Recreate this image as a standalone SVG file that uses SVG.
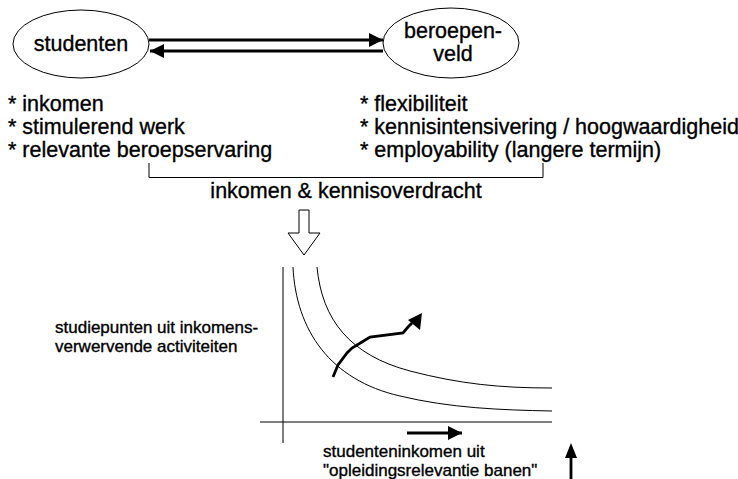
<svg xmlns="http://www.w3.org/2000/svg" width="738" height="479" viewBox="0 0 738 479">
  <defs>
    <marker id="head" viewBox="0 0 10 10" refX="10" refY="5" markerWidth="5" markerHeight="5" markerUnits="strokeWidth" orient="auto">
      <path d="M0,0 L10,5 L0,10 Z" fill="#000"/>
    </marker>
  </defs>
  <style>
    text { font-family: "Liberation Sans", Arial, sans-serif; fill: #000; stroke: #000; stroke-width: 0.35; }
    .big { font-size: 21.5px; }
    .small { font-size: 17px; }
    .node { fill: #fff; stroke: #000; stroke-width: 1; }
    .thick { fill: none; stroke: #000; stroke-width: 2.8; }
    .thin { fill: none; stroke: #000; stroke-width: 1; }
  </style>
  <rect width="738" height="479" fill="#fff"/>

  <!-- nodes -->
  <g id="studenten">
    <ellipse class="node" cx="81" cy="44" rx="68" ry="34"/>
    <text class="big" x="81" y="51" text-anchor="middle">studenten</text>
  </g>
  <g id="beroepenveld">
    <ellipse class="node" cx="451" cy="43" rx="68" ry="35"/>
    <text class="big" x="453" y="38" text-anchor="middle">beroepen-</text>
    <text class="big" x="453" y="61" text-anchor="middle">veld</text>
  </g>

  <!-- connectors between the two parties -->
  <g id="connectors">
    <line class="thick" x1="149" y1="40" x2="383" y2="40" marker-end="url(#head)"/>
    <line class="thick" x1="383" y1="51" x2="150" y2="51" marker-end="url(#head)"/>
  </g>

  <!-- interests of each side -->
  <g id="student-interests">
    <text class="big" x="8" y="111">* inkomen</text>
    <text class="big" x="8" y="134">* stimulerend werk</text>
    <text class="big" x="8" y="157">* relevante beroepservaring</text>
  </g>
  <g id="field-interests">
    <text class="big" x="360" y="111">* flexibiliteit</text>
    <text class="big" x="360" y="134">* kennisintensivering / hoogwaardigheid</text>
    <text class="big" x="360" y="157">* employability (langere termijn)</text>
  </g>

  <!-- bracket joining both lists -->
  <g id="bracket">
    <path class="thin" d="M149,163 V177.5 H543 V163"/>
    <text class="big" x="346" y="198" text-anchor="middle">inkomen &amp; kennisoverdracht</text>
  </g>

  <!-- hollow block arrow down to the chart -->
  <g id="block-arrow">
    <path d="M299,210 H309 V233 H320 L304,255 L288,233 H299 Z" fill="#fff" stroke="#000" stroke-width="1"/>
  </g>

  <!-- chart -->
  <g id="chart">
    <line class="thin" x1="283" y1="267" x2="283" y2="443"/>
    <line class="thin" x1="260" y1="422" x2="552" y2="422"/>
    <path class="thin" d="M293,267 C296,330 330,380 400,396 C450,408 500,410 552,411"/>
    <path class="thin" d="M317,267 C322,320 350,355 410,371 C460,384 500,388 552,388"/>
    <polyline class="thick" stroke-width="2.5" points="333,377 338,365 347,353 352,348 362,342 370,337 403,333 408,327 412,323"/>
    <path d="M422,313 L420,330 L408,320 Z" fill="#000"/>
    <line class="thick" stroke-width="2.5" x1="407" y1="433" x2="462" y2="433" marker-end="url(#head)"/>
    <line class="thick" stroke-width="2" x1="571" y1="479" x2="571" y2="455"/>
    <path d="M571,443 L577,458 L565,458 Z" fill="#000"/>
  </g>

  <g id="axis-labels">
    <text class="small" x="55" y="333">studiepunten uit inkomens-</text>
    <text class="small" x="55" y="352">verwervende activiteiten</text>
    <text class="small" x="323" y="457">studenteninkomen uit</text>
    <text class="small" x="323" y="476">"opleidingsrelevantie banen"</text>
  </g>
</svg>
